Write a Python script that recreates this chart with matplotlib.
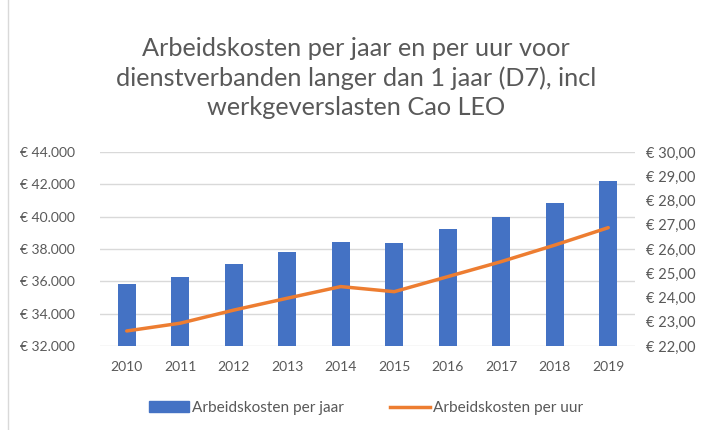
import matplotlib
matplotlib.use("Agg")
import matplotlib.pyplot as plt
from matplotlib.lines import Line2D
from matplotlib.ticker import FuncFormatter

years = ["2010", "2011", "2012", "2013", "2014", "2015", "2016", "2017", "2018", "2019"]
per_jaar = [35850, 36250, 37050, 37800, 38420, 38350, 39250, 40000, 40830, 42180]
per_uur = [22.62, 22.94, 23.48, 23.97, 24.45, 24.24, 24.86, 25.48, 26.16, 26.88]
left_ticks = [32000, 34000, 36000, 38000, 40000, 42000, 44000]
right_ticks = [22, 23, 24, 25, 26, 27, 28, 29, 30]

plt.rcParams['font.family'] = ['Lato', 'DejaVu Sans']
grey = '#595959'
blue = '#4472C4'
orange = '#ED7D31'

fig = plt.figure(figsize=(7.04, 4.30), dpi=100)
ax = fig.add_axes([100/704, 1-346/430, 535/704, 194/430])
x = list(range(len(years)))
ax.bar(x, per_jaar, width=0.34, color=blue, zorder=3)
ax.set_ylim(32000, 44000)
ax.set_xlim(-0.5, len(years)-0.5)
ax.set_yticks(left_ticks)
ax.yaxis.set_major_formatter(FuncFormatter(lambda v, p: "€ " + f"{int(v):,}".replace(",", ".")))
ax.set_xticks(x)
ax.set_xticklabels(years)
ax.grid(axis='y', color='#D9D9D9', linewidth=1, zorder=0)
for s in ax.spines.values():
    s.set_visible(False)
ax.tick_params(axis='both', length=0, colors=grey, labelsize=10)
ax.tick_params(axis='y', pad=18)
ax.tick_params(axis='x', pad=11)

ax2 = ax.twinx()
ax2.plot(x, per_uur, color=orange, linewidth=2.5, zorder=4, solid_capstyle='round')
ax2.set_ylim(22, 30)
ax2.set_yticks(right_ticks)
ax2.yaxis.set_major_formatter(FuncFormatter(lambda v, p: "€ " + f"{v:.2f}".replace(".", ",")))
for s in ax2.spines.values():
    s.set_visible(False)
ax2.tick_params(axis='y', length=0, colors=grey, labelsize=10.5, pad=8)

fig.text(356/704, 1-78/430, "Arbeidskosten per jaar en per uur voor\ndienstverbanden langer dan 1 jaar (D7), incl\nwerkgeverslasten Cao LEO",
         ha='center', va='center', fontsize=18.2, color=grey, linespacing=1.33)

handles = [plt.Rectangle((0, 0), 1, 1, color=blue), Line2D([0], [0], color=orange, linewidth=2.5)]
fig.legend(handles, ["Arbeidskosten per jaar", "Arbeidskosten per uur"], loc='center',
           bbox_to_anchor=(366/704, 1-408/430), ncol=2, frameon=False, fontsize=11.1,
           labelcolor=grey, handlelength=2.6, handletextpad=0.2, columnspacing=3.0)

fig.add_artist(Line2D([8/704, 8/704], [0, 1], transform=fig.transFigure, color='#D9D9D9', linewidth=1))

fig.savefig("out.png", dpi=100, facecolor='white')
